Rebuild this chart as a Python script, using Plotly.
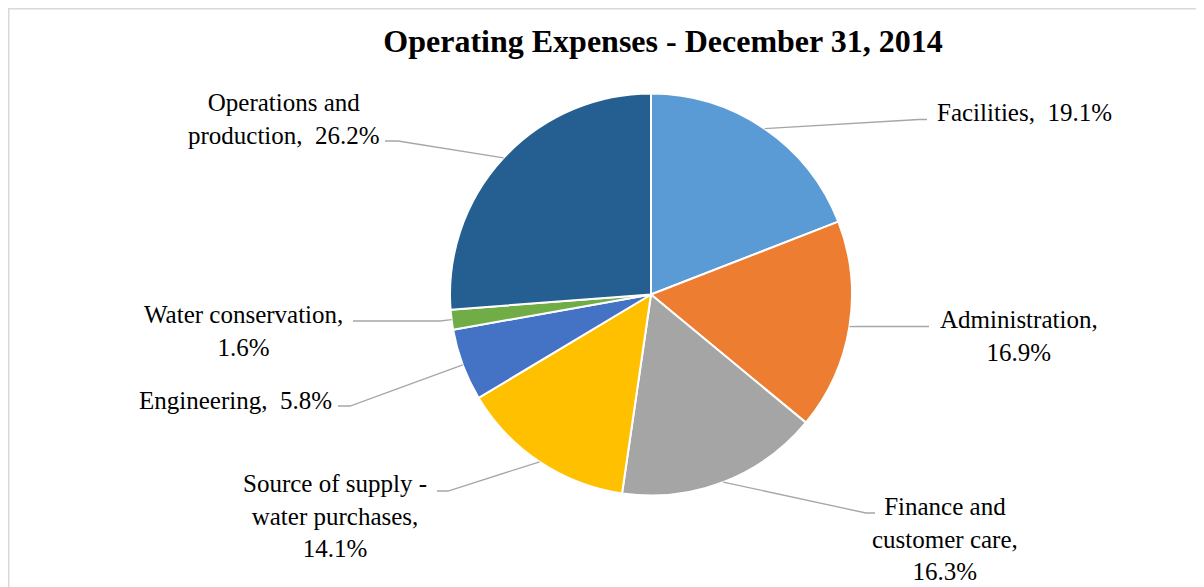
import math
import plotly.graph_objects as go

# ---------------- data ----------------
categories = [
    "Facilities",
    "Administration",
    "Finance and customer care",
    "Source of supply - water purchases",
    "Engineering",
    "Water conservation",
    "Operations and production",
]
shares = [19.1, 16.9, 16.3, 14.1, 5.8, 1.6, 26.2]
# how each category name is wrapped in its label
display_names = [
    "Facilities",
    "Administration",
    "Finance and<br>customer care",
    "Source of supply -<br>water purchases",
    "Engineering",
    "Water conservation",
    "Operations and<br>production",
]
# separator between name and value in each label
separators = [",  ", ",<br>", ",<br>", ",<br>", ",  ", ",<br>", ",  "]
colors = ["#5B9BD5", "#ED7D31", "#A5A5A5", "#FFC000", "#4472C4", "#70AD47", "#255E91"]
title_text = "Operating Expenses - December 31, 2014"

# ---------------- layout (page pixels) ----------------
PAGE_W, PAGE_H = 1204, 587
OFF = 8                      # browser body margin around the figure
W, H = PAGE_W - OFF, PAGE_H - OFF
CX, CY, R = 651, 294.5, 201

# label placement: text anchor (tx, ty, xanchor), leader elbow (ex, ey), leader end x (fx)
label_pos = [
    dict(tx=935, ty=112.5, xa="left", ex=919, ey=119.5, fx=927),
    dict(tx=1019, ty=336, xa="center", ex=860, ey=326.5, fx=929),
    dict(tx=945, ty=539, xa="center", ex=866, ey=513, fx=875),
    dict(tx=335, ty=516, xa="center", ex=448, ey=491, fx=437),
    dict(tx=235.5, ty=400, xa="center", ex=350, ey=406, fx=338),
    dict(tx=243.5, ty=331, xa="center", ex=440, ey=321, fx=353),
    dict(tx=284, ty=119, xa="center", ex=398, ey=141, fx=385),
]


def px(x):
    return (x - OFF) / W


def py(y):
    return 1 - (y - OFF) / H


fig = go.Figure()
fig.add_trace(go.Pie(
    labels=categories,
    values=shares,
    sort=False,
    direction="clockwise",
    rotation=0,
    textinfo="none",
    marker=dict(colors=colors, line=dict(color="white", width=2)),
    domain=dict(x=[px(CX - R), px(CX + R)], y=[py(CY + R), py(CY - R)]),
    showlegend=False,
    hovertemplate="%{label}: %{value:.1f}%<extra></extra>",
))

total = sum(shares)
shapes = []
annotations = []
cum = 0.0
for name, disp, sep, v, lp in zip(categories, display_names, separators, shares, label_pos):
    mid = (cum + v / 2) / total * 2 * math.pi
    cum += v
    sx = CX + R * math.sin(mid)
    sy = CY - R * math.cos(mid)
    path = "M {} {} L {} {} L {} {}".format(
        px(sx), py(sy), px(lp["ex"]), py(lp["ey"]), px(lp["fx"]), py(lp["ey"]))
    shapes.append(dict(type="path", xref="paper", yref="paper", path=path,
                       line=dict(color="#A6A6A6", width=1.3)))
    annotations.append(dict(
        xref="paper", yref="paper", x=px(lp["tx"]), y=py(lp["ty"]),
        xanchor=lp["xa"], yanchor="middle", align="center", showarrow=False,
        text=f"{disp}{sep}{v:.1f}%",
        font=dict(family="Liberation Serif, Times New Roman, serif", size=25, color="#000000"),
    ))

# chart frame
shapes.append(dict(type="rect", xref="paper", yref="paper",
                   x0=px(OFF + 0.75), y0=py(PAGE_H + 10), x1=px(PAGE_W + 10), y1=py(OFF + 0.75),
                   line=dict(color="#D9D9D9", width=1.5), fillcolor="rgba(0,0,0,0)",
                   layer="below"))

fig.update_layout(
    width=W, height=H,
    margin=dict(l=0, r=0, t=0, b=0),
    paper_bgcolor="white", plot_bgcolor="white",
    title=dict(text=title_text, x=px(663), xanchor="center", y=py(41), yanchor="middle",
               font=dict(family="Liberation Serif, Times New Roman, serif", size=32,
                         color="#000000", weight="bold")),
    shapes=shapes,
    annotations=annotations,
)

fig.write_html("out.html")
